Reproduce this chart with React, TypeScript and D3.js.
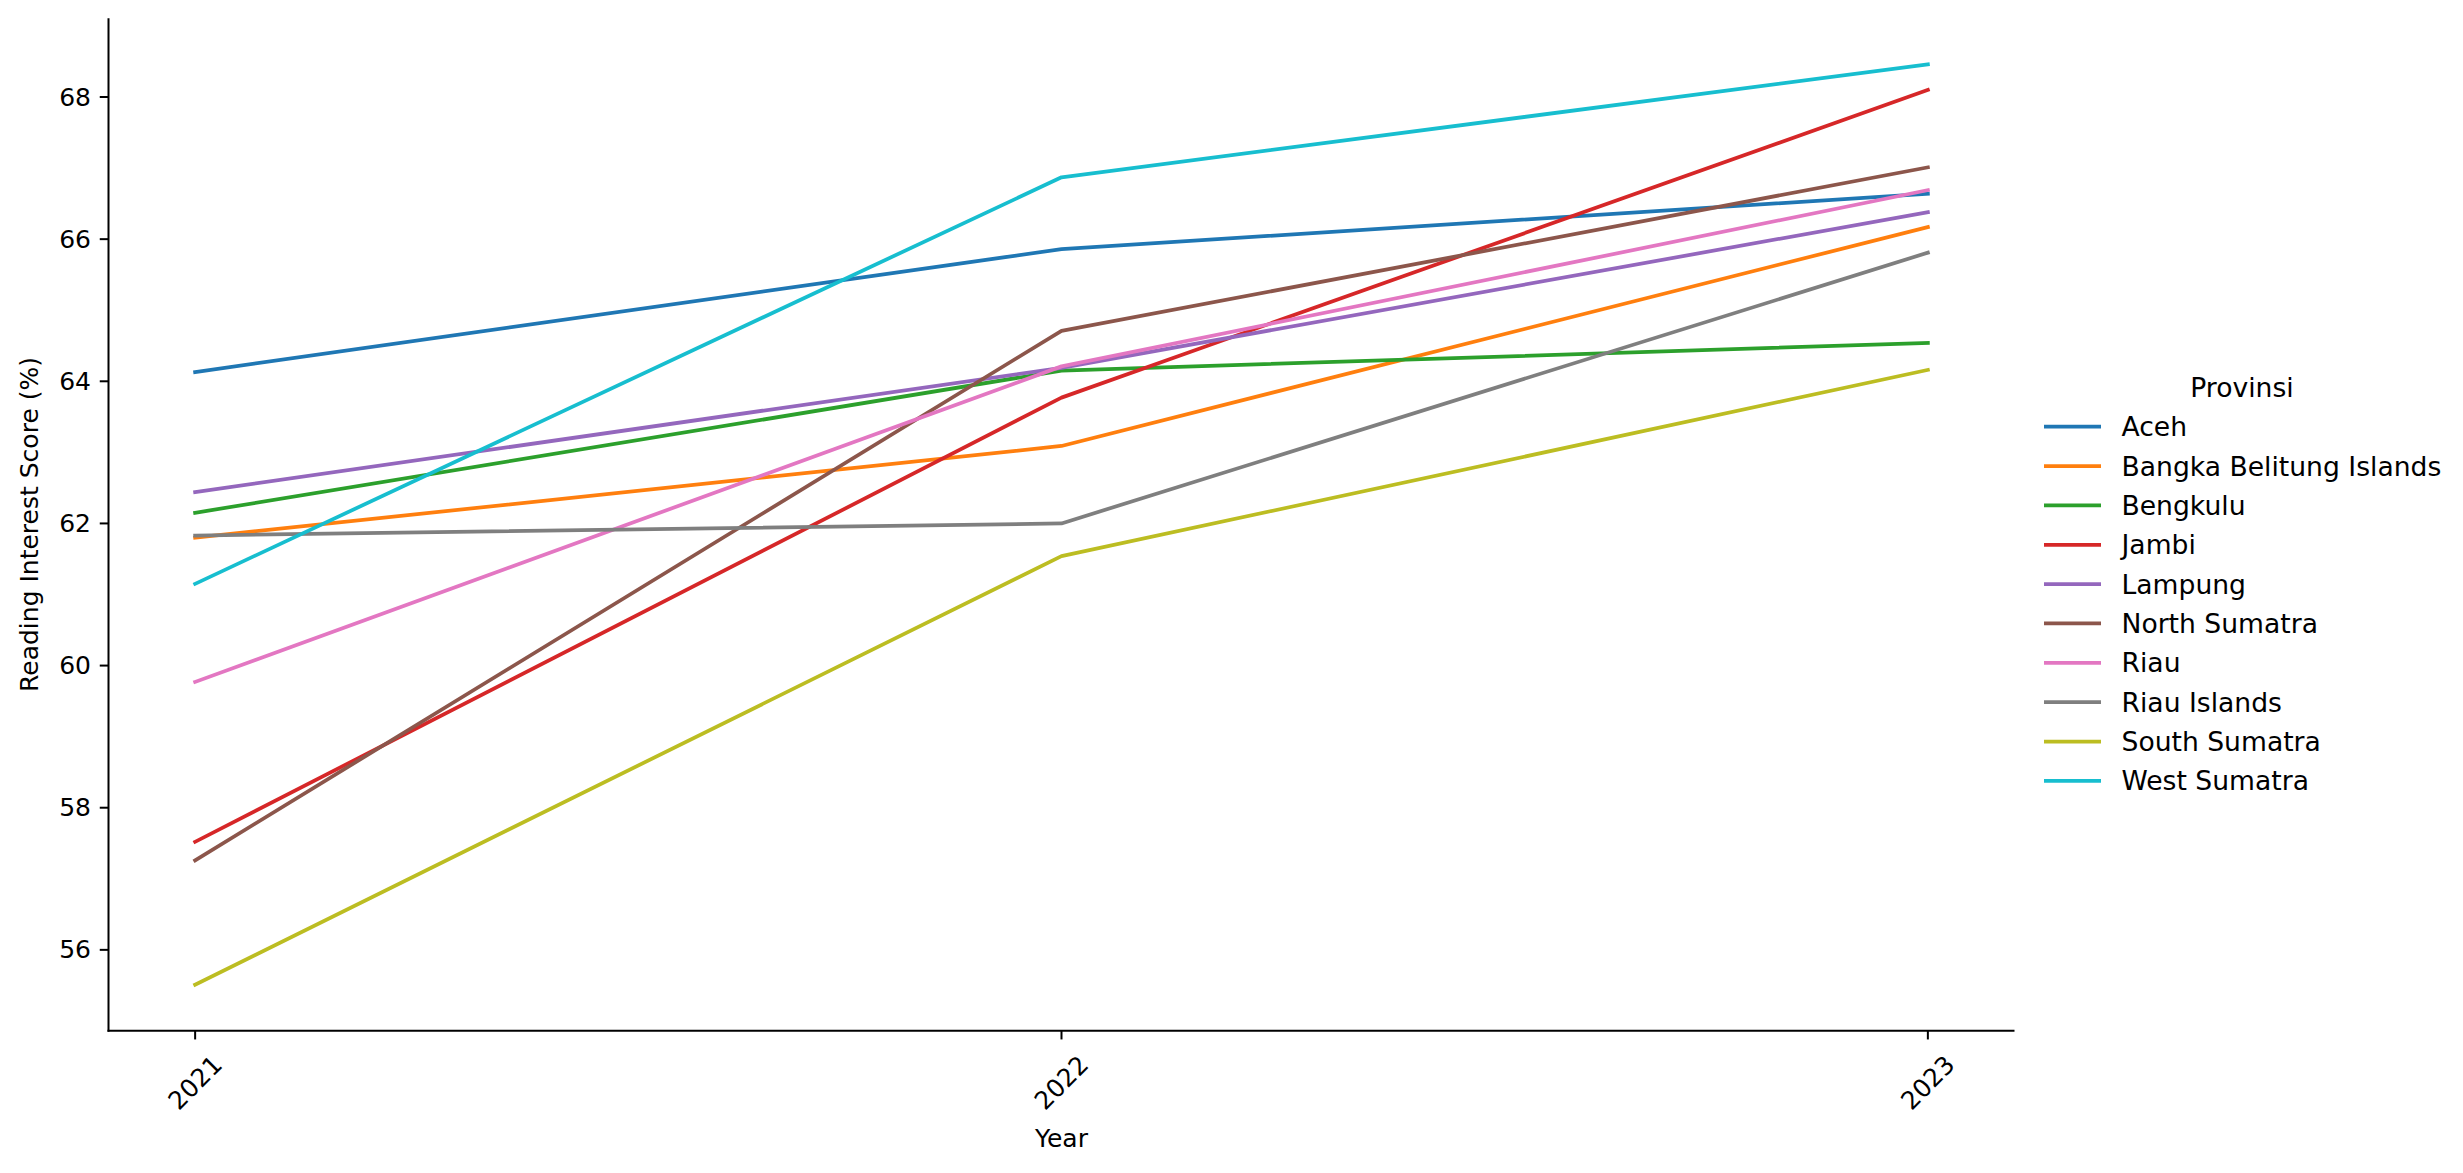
import React from 'react';
import * as d3 from 'd3';

// years on the x axis
const years = [2021, 2022, 2023];

// provinces, in legend order
const provinces = [
  'Aceh',
  'Bangka Belitung Islands',
  'Bengkulu',
  'Jambi',
  'Lampung',
  'North Sumatra',
  'Riau',
  'Riau Islands',
  'South Sumatra',
  'West Sumatra',
];

// reading interest score per province, one value per year
const aceh = [64.13, 65.86, 66.64];
const bangkaBelitung = [61.8, 63.09, 66.17];
const bengkulu = [62.15, 64.15, 64.54];
const jambi = [57.52, 63.77, 68.1];
const lampung = [62.44, 64.19, 66.38];
const northSumatra = [57.26, 64.71, 67.01];
const riau = [59.77, 64.21, 66.69];
const riauIslands = [61.83, 62.0, 65.81];
const southSumatra = [55.51, 61.54, 64.16];
const westSumatra = [61.15, 66.87, 68.46];

const seriesValues = [
  aceh, bangkaBelitung, bengkulu, jambi, lampung,
  northSumatra, riau, riauIslands, southSumatra, westSumatra,
];

const yTicks = [56, 58, 60, 62, 64, 66, 68];

const W = 2463;
const H = 1173;
const FONT = 'DejaVu Sans, Liberation Sans, sans-serif';
const FS = 25;
const LEGEND_FS = 26.6;

export default function App() {
  React.useEffect(() => {
    document.body.style.margin = '0';
  }, []);

  const margin = { left: 108.5, right: 2014.5, top: 18.3, bottom: 1030.7 };

  // matplotlib style 5% padding on both axes
  const xPad = (years[years.length - 1] - years[0]) * 0.05;
  const x = d3.scaleLinear()
    .domain([years[0] - xPad, years[years.length - 1] + xPad])
    .range([margin.left, margin.right]);

  const all = seriesValues.flat();
  const [lo, hi] = d3.extent(all) as [number, number];
  const yPad = (hi - lo) * 0.05;
  const y = d3.scaleLinear()
    .domain([lo - yPad, hi + yPad])
    .range([margin.bottom, margin.top]);

  const color = d3.scaleOrdinal<string, string>(d3.schemeCategory10).domain(provinces);

  const line = d3.line<number>()
    .x((_, i) => x(years[i]))
    .y(d => y(d));

  const tickLen = 8.75;
  const legendX = 2044;
  const legendRow0 = 426.7;
  const legendStep = 39.35;

  return (
    <svg width={W} height={H} style={{ display: 'block', position: 'absolute', left: 0, top: 0, background: '#fff' }}
      fontFamily={FONT}>
      {/* lines */}
      {seriesValues.map((vals, i) => (
        <path key={provinces[i]} d={line(vals) || ''} fill="none"
          stroke={color(provinces[i])} strokeWidth={3.75} strokeLinejoin="round" strokeLinecap="square" />
      ))}

      {/* spines */}
      <line x1={margin.left} x2={margin.left} y1={margin.top} y2={margin.bottom + 1} stroke="#000" strokeWidth={2} />
      <line x1={margin.left - 1} x2={margin.right} y1={margin.bottom} y2={margin.bottom} stroke="#000" strokeWidth={2} />

      {/* y ticks */}
      {yTicks.map(t => (
        <g key={t}>
          <line x1={margin.left - tickLen} x2={margin.left} y1={y(t)} y2={y(t)} stroke="#000" strokeWidth={2} />
          <text x={margin.left - tickLen - 8.75} y={y(t)} textAnchor="end" dominantBaseline="central" fontSize={FS}>{t}</text>
        </g>
      ))}

      {/* x ticks, rotated */}
      {years.map(yr => (
        <g key={yr}>
          <line x1={x(yr)} x2={x(yr)} y1={margin.bottom} y2={margin.bottom + tickLen} stroke="#000" strokeWidth={2} />
          <text transform={`translate(${x(yr)},${margin.bottom + 52}) rotate(-45)`}
            textAnchor="middle" dominantBaseline="central" fontSize={FS}>{yr}</text>
        </g>
      ))}

      {/* axis labels */}
      <text x={(margin.left + margin.right) / 2} y={1147} textAnchor="middle" fontSize={FS}>Year</text>
      <text transform={`translate(38.3,${(margin.top + margin.bottom) / 2}) rotate(-90)`} textAnchor="middle" fontSize={FS}>
        Reading Interest Score (%)
      </text>

      {/* legend */}
      <text x={2242} y={396.5} textAnchor="middle" fontSize={LEGEND_FS}>Provinsi</text>
      {provinces.map((p, i) => {
        const cy = legendRow0 + i * legendStep;
        return (
          <g key={p}>
            <line x1={legendX} x2={legendX + 57} y1={cy} y2={cy} stroke={color(p)} strokeWidth={3.75} />
            <text x={2121.5} y={cy + 9.5} fontSize={LEGEND_FS}>{p}</text>
          </g>
        );
      })}
    </svg>
  );
}
